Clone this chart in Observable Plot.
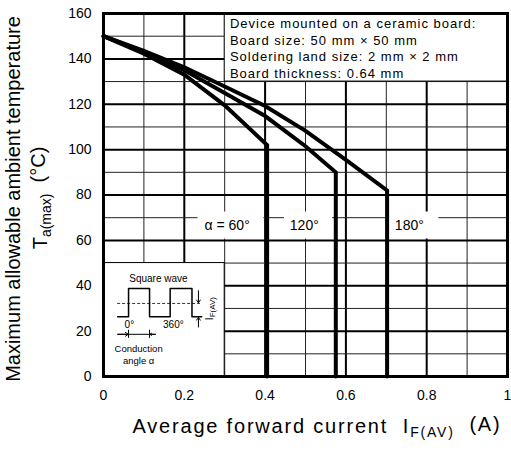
<!DOCTYPE html>
<html><head><meta charset="utf-8">
<script src="https://cdn.jsdelivr.net/npm/d3@7"></script>
<script src="https://cdn.jsdelivr.net/npm/@observablehq/plot@0.6"></script>
<style>
body{margin:0;background:#fff}
svg{font-family:"Liberation Sans",Arial,sans-serif}
</style>
</head><body><div id="chart"></div>
<script>
// ---- data ----
const angles = ["60°", "120°", "180°"];
const current60 = [0, 0.1, 0.2, 0.3, 0.405, 0.405];
const temp60    = [150, 142.3, 133, 119.5, 102, 0];
const current120 = [0, 0.1, 0.2, 0.3, 0.4, 0.5, 0.575, 0.575];
const temp120    = [150, 143, 135, 125, 114.8, 101.5, 90, 0];
const current180 = [0, 0.1, 0.2, 0.3, 0.4, 0.5, 0.6, 0.702, 0.702];
const temp180    = [150, 143.5, 136.3, 127.8, 119.2, 108.3, 95.5, 82, 0];

const xTicks = [0, 0.2, 0.4, 0.6, 0.8, 1];
const xTickLabels = ["0", "0.2", "0.4", "0.6", "0.8", "1"];
const yTicks = [0, 20, 40, 60, 80, 100, 120, 140, 160];
const xGridMinor = [0.1, 0.3, 0.5, 0.7, 0.9];
const xGridMajor = [0.2, 0.4, 0.6, 0.8];
const yGridMinor = [10, 30, 50, 70, 90, 110, 130, 150];
const yGridMajor = [20, 40, 60, 80, 100, 120, 140];

const angleLabels = ["α = 60°", "120°", "180°"];
const angleLabelX = [0.306, 0.497, 0.757];
const angleLabelY = [66.5, 66.5, 66.5];
const angleBoxX1 = [0.234, 0.448, 0.706];
const angleBoxX2 = [0.397, 0.567, 0.830];

const noteLines = [
  "Device mounted on a ceramic board:",
  "Board size: 50 mm × 50 mm",
  "Soldering land size: 2 mm × 2 mm",
  "Board thickness: 0.64 mm"
];

// inset square-wave diagram (drawn in chart units)
const waveX = [0.035, 0.062, 0.062, 0.114, 0.114, 0.165, 0.165, 0.219, 0.219, 0.243];
const waveY = [26.3, 26.3, 38.8, 38.8, 26.3, 26.3, 38.8, 38.8, 26.3, 26.3];

// ---- tables ----
const series = [
  ...current60.map((c, i) => ({angle: angles[0], current: c, temp: temp60[i]})),
  ...current120.map((c, i) => ({angle: angles[1], current: c, temp: temp120[i]})),
  ...current180.map((c, i) => ({angle: angles[2], current: c, temp: temp180[i]}))
];
const wave = waveX.map((x, i) => ({x, y: waveY[i]}));
const whiteBoxes = [
  {x1: 0.3, x2: 1, y1: 130, y2: 160, line: true},
  {x1: 0, x2: 0.3, y1: 0, y2: 50, line: true},
  ...angleBoxX1.map((x1, i) => ({x1, x2: angleBoxX2[i], y1: 60.6, y2: 72.5, line: false}))
];
const labels = angleLabels.map((t, i) => ({t, x: angleLabelX[i], y: angleLabelY[i]}));

const plot = Plot.plot({
  width: 511, height: 450,
  marginLeft: 103, marginRight: 4, marginTop: 13, marginBottom: 74,
  x: {domain: [0, 1]},
  y: {domain: [0, 160]},
  style: {fontFamily: '"Liberation Sans", Arial, sans-serif', color: "#000", background: "#fff", overflow: "visible"},
  marks: [
    Plot.ruleX(xGridMinor, {stroke: "#222", strokeWidth: 1}),
    Plot.ruleX(xGridMajor, {stroke: "#000", strokeWidth: 2}),
    Plot.ruleY(yGridMinor, {stroke: "#222", strokeWidth: 1}),
    Plot.ruleY(yGridMajor, {stroke: "#000", strokeWidth: 2}),
    Plot.rect(whiteBoxes.filter(d => !d.line), {x1: "x1", x2: "x2", y1: "y1", y2: "y2", fill: "#fff"}),
    Plot.rect(whiteBoxes.filter(d => d.line), {x1: "x1", x2: "x2", y1: "y1", y2: "y2", fill: "#fff", stroke: "#000", strokeWidth: 1}),
    Plot.line(series, {x: "current", y: "temp", z: "angle", stroke: "#000", strokeWidth: 4, strokeLinejoin: "miter", strokeMiterlimit: 10}),
    Plot.frame({stroke: "#000", strokeWidth: 3}),
    Plot.axisX(xTicks, {tickSize: 0, tickPadding: 14, fontSize: 14, label: null, tickFormat: (d, i) => xTickLabels[i]}),
    Plot.axisY(yTicks, {tickSize: 0, tickPadding: 12, fontSize: 14, label: null}),
    Plot.text(labels, {x: "x", y: "y", text: "t", fontSize: 14, fill: "#000"}),
    Plot.text([noteLines.join("\n")], {x: 0.313, y: 158.6, text: d => d, textAnchor: "start", lineAnchor: "top", lineHeight: 1.27, fontSize: 13, fill: "#000", className: "notes"}),
    // inset
    Plot.line(wave, {x: "x", y: "y", stroke: "#000", strokeWidth: 1.5}),
    Plot.ruleY([32.2], {x1: 0.035, x2: 0.24, stroke: "#000", strokeWidth: 0.8, strokeDasharray: "3,2"}),
    Plot.arrow([0], {x1: 0.235, y1: 37.8, x2: 0.235, y2: 32.5, stroke: "#000", strokeWidth: 1, headLength: 5, headAngle: 70}),
    Plot.arrow([0], {x1: 0.235, y1: 21.8, x2: 0.235, y2: 26.0, stroke: "#000", strokeWidth: 1, headLength: 5, headAngle: 70}),
    Plot.ruleY([18.6], {x1: 0.035, x2: 0.129, stroke: "#000", strokeWidth: 1}),
    Plot.ruleX([0.062, 0.114], {y1: 16.8, y2: 20.4, stroke: "#000", strokeWidth: 1}),
    Plot.arrow([0], {x1: 0.036, y1: 18.6, x2: 0.061, y2: 18.6, stroke: "#000", strokeWidth: 1, headLength: 5, headAngle: 70}),
    Plot.arrow([0], {x1: 0.129, y1: 18.6, x2: 0.115, y2: 18.6, stroke: "#000", strokeWidth: 1, headLength: 5, headAngle: 70}),
    Plot.text(["Square wave"], {x: 0.136, y: 43, text: d => d, fontSize: 10, fill: "#000"}),
    Plot.text(["0°"], {x: 0.064, y: 22.8, text: d => d, fontSize: 10, fill: "#000"}),
    Plot.text(["360°"], {x: 0.173, y: 22.8, text: d => d, fontSize: 10, fill: "#000"}),
    Plot.text(["Conduction"], {x: 0.087, y: 12.0, text: d => d, fontSize: 9.5, fill: "#000"}),
    Plot.text(["angle α"], {x: 0.087, y: 6.9, text: d => d, fontSize: 9.5, fill: "#000"})
  ]
});
document.getElementById("chart").appendChild(plot);
d3.select(plot).selectAll(".notes text").attr("letter-spacing", "1px");

// subscripted labels
const svg = d3.select(plot);
const sx = plot.scale("x"), sy = plot.scale("y");
function sub(sel, main, subText, tail, subSize) {
  sel.append("tspan").text(main);
  sel.append("tspan").attr("font-size", subSize).attr("dy", "0.3em").text(subText);
  sel.append("tspan").attr("dy", "-0.3em").text(tail);
}
const xl = svg.append("text").attr("x", 317).attr("y", 433).attr("text-anchor", "middle")
  .attr("font-size", 20).attr("letter-spacing", "1.8px").attr("fill", "#000").style("white-space", "pre");
sub(xl, "Average forward current  I", "F(AV)", "  (A)", 14);

svg.append("text").attr("transform", "translate(20,199) rotate(-90)").attr("text-anchor", "middle")
  .attr("font-size", 20).attr("fill", "#000").style("white-space", "pre")
  .text("Maximum allowable ambient temperature");
const yl2 = svg.append("text").attr("transform", "translate(47,198) rotate(-90)").attr("text-anchor", "middle")
  .attr("font-size", 20).attr("fill", "#000").style("white-space", "pre");
sub(yl2, "T", "a(max)", "  (°C)", 14);

const il = svg.append("text")
  .attr("transform", `translate(${sx.apply(0.262) + 4},${sy.apply(29.7)}) rotate(-90)`)
  .attr("text-anchor", "middle").attr("font-size", 10).attr("fill", "#000");
sub(il, "I", "F(AV)", "", 8);
</script>
</body></html>
